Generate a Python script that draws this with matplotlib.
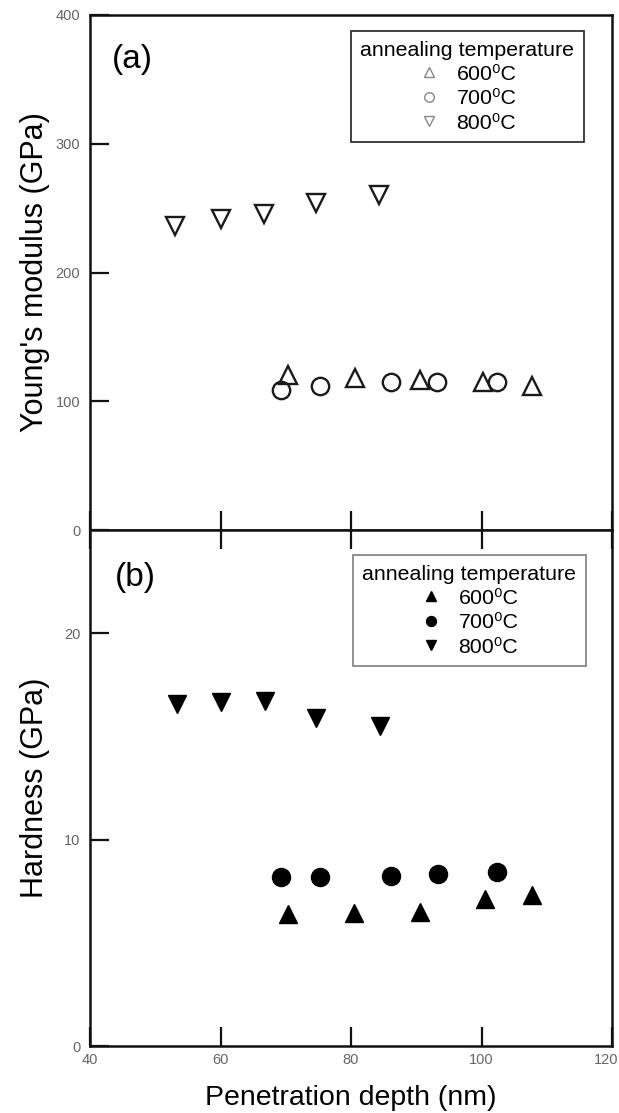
import numpy as np
import matplotlib
matplotlib.use('Agg')
import matplotlib.pyplot as plt
from matplotlib.transforms import ScaledTranslation

plt.rcParams['font.family'] = ['Liberation Sans', 'DejaVu Sans']

# (a) Young's modulus
depth_600 = [70.3, 80.6, 90.5, 100.2, 107.7]
modulus_600 = [120.2, 117.8, 116.3, 114.7, 111.6]
depth_700 = [69.2, 75.2, 86.2, 93.2, 102.3]
modulus_700 = [108.5, 111.6, 114.7, 114.7, 114.7]
depth_800 = [53.1, 60.0, 66.6, 74.6, 84.3]
modulus_800 = [236.4, 241.9, 245.7, 254.3, 260.5]

# (b) Hardness
hdepth_600 = [70.3, 80.5, 90.5, 100.6, 107.8]
hardness_600 = [6.4, 6.45, 6.5, 7.1, 7.3]
hdepth_700 = [69.2, 75.2, 86.2, 93.4, 102.3]
hardness_700 = [8.2, 8.2, 8.25, 8.35, 8.45]
hdepth_800 = [53.4, 60.0, 66.8, 74.6, 84.5]
hardness_800 = [16.55, 16.65, 16.7, 15.9, 15.5]

labels = ['600\u2070C', '700\u2070C', '800\u2070C']
legend_title = 'annealing temperature'

fig = plt.figure(figsize=(6.19, 11.13), dpi=100)
ax1 = fig.add_axes([90 / 619, 1 - 530 / 1113, 522 / 619, 515 / 1113])
ax2 = fig.add_axes([90 / 619, 1 - 1046 / 1113, 522 / 619, 516 / 1113])

edge = '#1a1a1a'
ms = 12.5
mew = 1.7

ax1.plot(depth_600, modulus_600, '^', ms=ms, mfc='none', mec=edge, mew=mew, label=labels[0])
ax1.plot(depth_700, modulus_700, 'o', ms=ms, mfc='none', mec=edge, mew=mew, label=labels[1])
ax1.plot(depth_800, modulus_800, 'v', ms=ms, mfc='none', mec=edge, mew=mew, label=labels[2])

ax2.plot(hdepth_600, hardness_600, '^', ms=ms, mfc='black', mec='black', label=labels[0])
ax2.plot(hdepth_700, hardness_700, 'o', ms=ms + 0.5, mfc='black', mec='black', label=labels[1])
ax2.plot(hdepth_800, hardness_800, 'v', ms=ms, mfc='black', mec='black', label=labels[2])

for ax in (ax1, ax2):
    ax.set_xlim(40, 120)
    ax.set_xticks([40, 60, 80, 100, 120])
    for s in ax.spines.values():
        s.set_linewidth(1.8)
        s.set_color('#111111')
    ax.tick_params(direction='in', length=13.5, width=1.6, color='#111111',
                   labelsize=10.5, labelcolor='#666666')
    ax.tick_params(axis='y', pad=7)
    ax.tick_params(axis='x', pad=5)
    ax.yaxis.set_label_coords(-0.077, 0.5)

ax1.set_ylim(0, 400)
ax1.set_yticks([0, 100, 200, 300, 400])
ax1.tick_params(axis='x', labelbottom=False)
ax1.set_ylabel("Young's modulus (GPa)", fontsize=22)
ax1.text(0.042, 0.913, '(a)', transform=ax1.transAxes, fontsize=24, va='center', ha='left')

ax2.set_ylim(0, 25)
ax2.set_yticks([0, 10, 20])
ax2.tick_params(axis='x', top=True)
ax2.set_ylabel('Hardness (GPa)', fontsize=22)
ax2.set_xlabel('Penetration depth (nm)', fontsize=20.5, labelpad=13)
ax2.text(0.048, 0.907, '(b)', transform=ax2.transAxes, fontsize=24, va='center', ha='left')

# keep the last x label inside the figure edge
last = ax2.get_xticklabels()[-1]
last.set_transform(last.get_transform() + ScaledTranslation(-6 / 100, 0, fig.dpi_scale_trans))

leg1 = ax1.legend(title=legend_title, loc='upper right', bbox_to_anchor=(0.946, 0.969),
                  fontsize=15.4, title_fontsize=15.4, markerscale=0.55, handlelength=1.0,
                  handletextpad=0.8, labelspacing=0.25, borderpad=0.45, borderaxespad=0,
                  fancybox=False, framealpha=1, edgecolor='#333333')
leg1.get_frame().set_linewidth(1.3)
for h in leg1.legend_handles:
    h.set_markeredgecolor('#888888')
    h.set_markeredgewidth(1.0)

leg2 = ax2.legend(title=legend_title, loc='upper right', bbox_to_anchor=(0.950, 0.9516),
                  fontsize=15.4, title_fontsize=15.4, markerscale=0.55, handlelength=1.0,
                  handletextpad=0.8, labelspacing=0.25, borderpad=0.45, borderaxespad=0,
                  fancybox=False, framealpha=1, edgecolor='#888888')
leg2.get_frame().set_linewidth(1.3)

fig.savefig('out.png', dpi=100)
